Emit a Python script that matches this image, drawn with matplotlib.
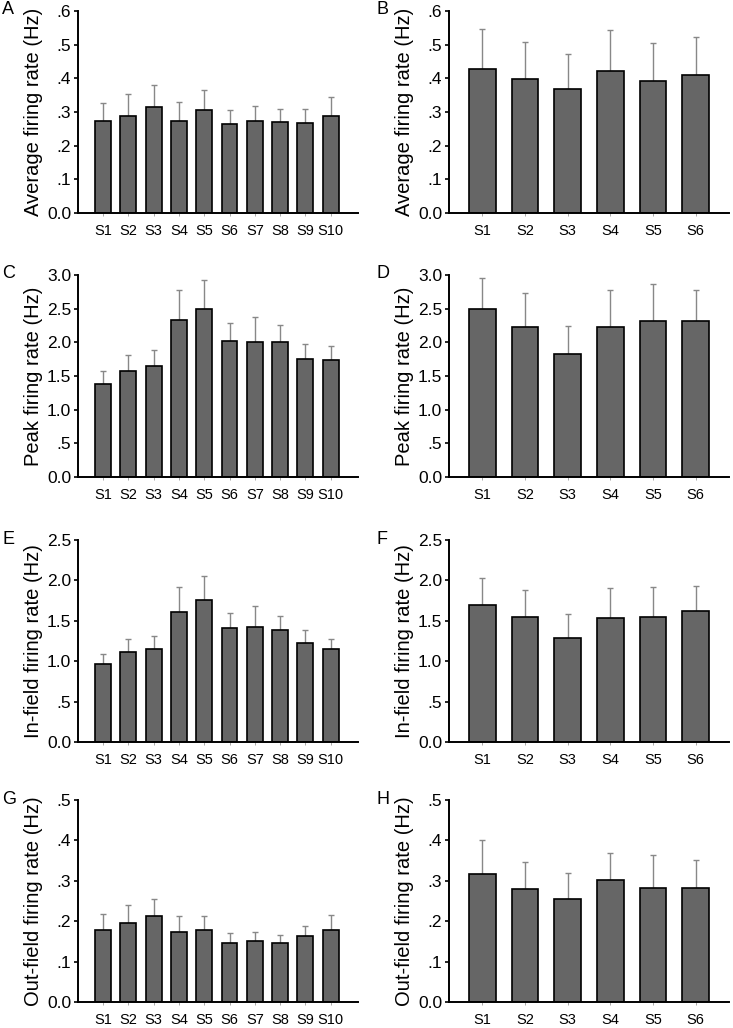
import matplotlib
matplotlib.use("Agg")
import matplotlib.pyplot as plt
import numpy as np

plt.rcParams['font.family'] = ['Liberation Sans', 'DejaVu Sans']

# DATA (means and upper error bars)
sessions_left = ["S1", "S2", "S3", "S4", "S5", "S6", "S7", "S8", "S9", "S10"]
sessions_right = ["S1", "S2", "S3", "S4", "S5", "S6"]

avg_left = [0.274, 0.289, 0.316, 0.274, 0.306, 0.264, 0.272, 0.269, 0.267, 0.287]
avg_left_err = [0.053, 0.063, 0.065, 0.056, 0.060, 0.042, 0.047, 0.041, 0.043, 0.059]
avg_right = [0.427, 0.398, 0.368, 0.421, 0.393, 0.411]
avg_right_err = [0.119, 0.109, 0.104, 0.122, 0.113, 0.111]

peak_left = [1.38, 1.57, 1.65, 2.33, 2.50, 2.02, 2.01, 2.00, 1.75, 1.74]
peak_left_err = [0.19, 0.24, 0.23, 0.45, 0.42, 0.27, 0.36, 0.26, 0.23, 0.21]
peak_right = [2.49, 2.23, 1.83, 2.23, 2.32, 2.32]
peak_right_err = [0.47, 0.50, 0.42, 0.55, 0.55, 0.45]

infield_left = [0.96, 1.11, 1.15, 1.61, 1.76, 1.41, 1.42, 1.38, 1.22, 1.15]
infield_left_err = [0.13, 0.17, 0.16, 0.31, 0.29, 0.19, 0.26, 0.18, 0.17, 0.13]
infield_right = [1.70, 1.55, 1.29, 1.53, 1.55, 1.62]
infield_right_err = [0.33, 0.33, 0.29, 0.38, 0.37, 0.31]

outfield_left = [0.179, 0.195, 0.213, 0.173, 0.177, 0.146, 0.151, 0.146, 0.164, 0.177]
outfield_left_err = [0.038, 0.046, 0.041, 0.039, 0.037, 0.026, 0.022, 0.020, 0.024, 0.039]
outfield_right = [0.317, 0.279, 0.254, 0.301, 0.283, 0.283]
outfield_right_err = [0.084, 0.067, 0.065, 0.068, 0.081, 0.069]

ylabels = ["Average firing rate (Hz)", "Peak firing rate (Hz)",
           "In-field firing rate (Hz)", "Out-field firing rate (Hz)"]
yticks_avg = [0, 0.1, 0.2, 0.3, 0.4, 0.5, 0.6]
ytick_labels_avg = ["0.0", ".1", ".2", ".3", ".4", ".5", ".6"]
yticks_peak = [0, 0.5, 1.0, 1.5, 2.0, 2.5, 3.0]
ytick_labels_peak = ["0.0", ".5", "1.0", "1.5", "2.0", "2.5", "3.0"]
yticks_in = [0, 0.5, 1.0, 1.5, 2.0, 2.5]
ytick_labels_in = ["0.0", ".5", "1.0", "1.5", "2.0", "2.5"]
yticks_out = [0, 0.1, 0.2, 0.3, 0.4, 0.5]
ytick_labels_out = ["0.0", ".1", ".2", ".3", ".4", ".5"]

BAR_COLOR = "#666666"
ERR_COLOR = "#888888"

W, H = 733, 1028
fig = plt.figure(figsize=(W / 100, H / 100), dpi=100)


def make_panel(left_px, top_px, bottom_px, labels, vals, errs, yticks, ytl, ylabel, letter, letter_x):
    ax = fig.add_axes([left_px / W, 1 - bottom_px / H, 280 / W, (bottom_px - top_px) / H])
    x = np.arange(len(labels))
    ax.bar(x, vals, width=0.63, color=BAR_COLOR, edgecolor="black", linewidth=1.2, zorder=2)
    ax.errorbar(x, vals, yerr=[np.zeros(len(vals)), errs], fmt="none", ecolor=ERR_COLOR,
                elinewidth=1.0, capsize=2.5, capthick=1.0, zorder=1)
    if len(labels) == 10:
        ax.set_xlim(-0.99, 10.08)
    else:
        ax.set_xlim(-0.78, 5.78)
    ax.set_ylim(yticks[0], yticks[-1])
    ax.set_yticks(yticks)
    ax.set_yticklabels(ytl, fontsize=12.5)
    ax.set_xticks(x)
    ax.set_xticklabels(labels, fontsize=10.5)
    ax.tick_params(axis="x", length=2, width=0.6, color="#999999", pad=6)
    ax.tick_params(axis="y", length=3, width=1.2, direction="out", pad=2)
    for s in ["top", "right"]:
        ax.spines[s].set_visible(False)
    ax.spines["left"].set_linewidth(1.4)
    ax.spines["bottom"].set_linewidth(1.4)
    ax.set_ylabel(ylabel, fontsize=14.5, labelpad=3)
    fig.text(letter_x / W, 1 - (top_px - 1) / H, letter, fontsize=13, ha="left", va="center")
    return ax


rows = [
    (11, 213, avg_left, avg_left_err, avg_right, avg_right_err, yticks_avg, ytick_labels_avg, "A", "B"),
    (275, 477, peak_left, peak_left_err, peak_right, peak_right_err, yticks_peak, ytick_labels_peak, "C", "D"),
    (540, 742, infield_left, infield_left_err, infield_right, infield_right_err, yticks_in, ytick_labels_in, "E", "F"),
    (800, 1002, outfield_left, outfield_left_err, outfield_right, outfield_right_err, yticks_out, ytick_labels_out, "G", "H"),
]

for i, (top, bottom, vl, el, vr, er, yt, ytl, la, lb) in enumerate(rows):
    make_panel(78, top, bottom, sessions_left, vl, el, yt, ytl, ylabels[i], la, 2)
    make_panel(449, top, bottom, sessions_right, vr, er, yt, ytl, ylabels[i], lb, 376)

fig.savefig("out.png", dpi=100)
